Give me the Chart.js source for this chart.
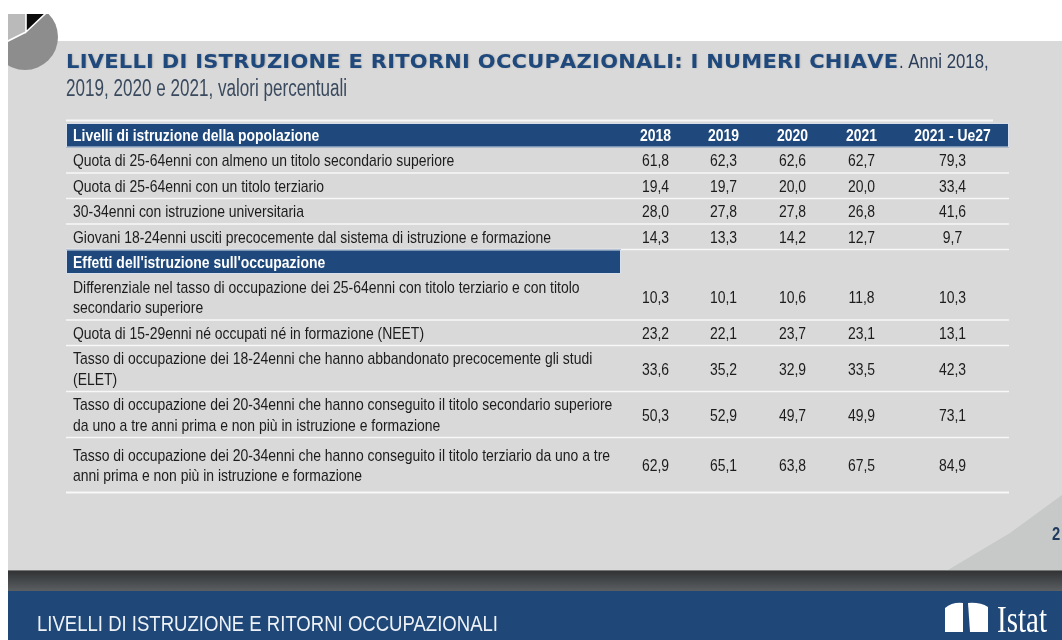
<!DOCTYPE html>
<html>
<head>
<meta charset="utf-8">
<script src="https://cdn.jsdelivr.net/npm/chart.js@4/dist/chart.umd.min.js"></script>
<style>
  html, body { margin: 0; padding: 0; background: #ffffff; }
  #wrap { width: 1062px; height: 640px; position: relative; overflow: hidden; }
  canvas { display: block; }
</style>
</head>
<body>
<div id="wrap"><canvas id="c" width="1062" height="640"></canvas></div>
<script>
// ---------------- DATA ----------------
const titleBold = 'LIVELLI DI ISTRUZIONE E RITORNI OCCUPAZIONALI: I NUMERI CHIAVE';
const titleRest = '. Anni 2018,';
const subtitle = '2019, 2020 e 2021, valori percentuali';
const footerText = 'LIVELLI DI ISTRUZIONE E RITORNI OCCUPAZIONALI';
const logoText = 'Istat';
const pageNumber = '2';

const columns = ['2018', '2019', '2020', '2021', '2021 - Ue27'];

const sections = [
  'Livelli di istruzione della popolazione',
  "Effetti dell'istruzione sull'occupazione"
];

const indicators = [
  'Quota di 25-64enni con almeno un titolo secondario superiore',
  'Quota di 25-64enni con un titolo terziario',
  '30-34enni con istruzione universitaria',
  'Giovani 18-24enni usciti precocemente dal sistema di istruzione e formazione',
  'Differenziale nel tasso di occupazione dei 25-64enni con titolo terziario e con titolo\nsecondario superiore',
  'Quota di 15-29enni né occupati né in formazione (NEET)',
  'Tasso di occupazione dei 18-24enni che hanno abbandonato precocemente gli studi\n(ELET)',
  'Tasso di occupazione dei 20-34enni che hanno conseguito il titolo secondario superiore\nda uno a tre anni prima e non più in istruzione e formazione',
  'Tasso di occupazione dei 20-34enni che hanno conseguito il titolo terziario da uno a tre\nanni prima e non più in istruzione e formazione'
];

const indicatorSection = [0, 0, 0, 0, 1, 1, 1, 1, 1];

const values2018 = [61.8, 19.4, 28.0, 14.3, 10.3, 23.2, 33.6, 50.3, 62.9];
const values2019 = [62.3, 19.7, 27.8, 13.3, 10.1, 22.1, 35.2, 52.9, 65.1];
const values2020 = [62.6, 20.0, 27.8, 14.2, 10.6, 23.7, 32.9, 49.7, 63.8];
const values2021 = [62.7, 20.0, 26.8, 12.7, 11.8, 23.1, 33.5, 49.9, 67.5];
const valuesUe27 = [79.3, 33.4, 41.6, 9.7, 10.3, 13.1, 42.3, 73.1, 84.9];

const columnValues = [values2018, values2019, values2020, values2021, valuesUe27];

// rows of the table: each section title followed by its indicators
const rowKeys = [];
sections.forEach((s, si) => {
  rowKeys.push(s);
  indicators.forEach((ind, i) => { if (indicatorSection[i] === si) rowKeys.push(ind); });
});
const sectionSet = new Set(sections);

// ---------------- LAYOUT / STYLE ----------------
const FONT = '"Liberation Sans", Arial, sans-serif';
const TITLE_FONT = '"DejaVu Sans", "Liberation Sans", Arial, sans-serif';
const SERIF = '"Liberation Serif", "Times New Roman", serif';
const NARROW = 0.82;
const BLUE = '#1f497c';
const TABLE = { left: 66, textX: 73, size: 17, lineGap: 20.5, textColor: '#1c1c1c' };
const COLUMN_WIDTHS = [67, 69, 69, 69, 113];
const ROW_SIZE = { section: 24.5, single: 25.5, double: 46, lastExtra: 9 };

const BAND_WEIGHTS = {
  x: (label, i) => COLUMN_WIDTHS[i] || 1,
  y: (label, i, labels) => {
    let w = sectionSet.has(label) ? ROW_SIZE.section : (label.includes('\n') ? ROW_SIZE.double : ROW_SIZE.single);
    if (i === labels.length - 1) w += ROW_SIZE.lastExtra;
    return w;
  }
};

// A category scale whose bands have individual widths (table columns / rows)
const BaseCategory = Chart.CategoryScale || Chart.registry.getScale('category');
class BandScale extends BaseCategory {
  bandWeights() {
    const labels = this.getLabels();
    const fn = BAND_WEIGHTS[this.axis];
    return labels.map((l, i) => fn(l, i, labels));
  }
  bandEdges(index) {
    const w = this.bandWeights();
    const total = w.reduce((a, b) => a + b, 0);
    let start = 0;
    for (let k = 0; k < index; k++) start += w[k];
    return [this.getPixelForDecimal(start / total), this.getPixelForDecimal((start + w[index]) / total)];
  }
  getPixelForValue(value) {
    const idx = typeof value === 'number' ? value : this.parse(value);
    if (idx === null || idx === undefined || isNaN(idx)) return NaN;
    const [a, b] = this.bandEdges(idx);
    return (a + b) / 2;
  }
}
BandScale.id = 'band';
BandScale.defaults = BaseCategory.defaults;
Chart.register(BandScale);

// ---------------- TEXT HELPERS ----------------
function drawText(ctx, str, x, baseline, o) {
  ctx.save();
  ctx.font = (o.weight || 'normal') + ' ' + o.size + 'px ' + (o.family || FONT);
  ctx.fillStyle = o.color;
  ctx.textAlign = o.align || 'left';
  ctx.textBaseline = 'alphabetic';
  let sx = o.sx || 1;
  if (o.fitWidth) sx = o.fitWidth / ctx.measureText(str).width;
  ctx.translate(x, baseline);
  ctx.scale(sx, 1);
  ctx.fillText(str, 0, 0);
  const w = ctx.measureText(str).width * sx;
  ctx.restore();
  return w;
}
function drawCentered(ctx, str, x, mid, o) {
  return drawText(ctx, str, x, mid + o.size * 0.716 / 2, o);
}
function drawSpaced(ctx, str, x, baseline, o) {
  ctx.save();
  ctx.font = (o.weight || 'normal') + ' ' + o.size + 'px ' + (o.family || FONT);
  ctx.fillStyle = o.color;
  ctx.textBaseline = 'alphabetic';
  if (o.shadow) { ctx.shadowColor = o.shadow; ctx.shadowBlur = 1.5; ctx.shadowOffsetX = 0.8; ctx.shadowOffsetY = 0.8; }
  const gsx = o.glyphScale || 1;
  const chars = [...str];
  const widths = chars.map(c => ctx.measureText(c).width * gsx);
  const natural = widths.reduce((a, b) => a + b, 0);
  const gap = (o.fitWidth - natural) / (chars.length - 1);
  let cx = x;
  chars.forEach((c, k) => {
    ctx.save();
    ctx.translate(cx, baseline);
    ctx.scale(gsx, 1);
    ctx.fillText(c, 0, 0);
    ctx.restore();
    cx += widths[k] + gap;
  });
  ctx.restore();
  return cx - gap;
}
const fmt = v => v.toFixed(1).replace('.', ',');

// ---------------- SLIDE DECORATION ----------------
const slidePlugin = {
  id: 'slide',
  beforeDraw(chart) {
    const ctx = chart.ctx;
    const W = chart.width, H = chart.height;
    ctx.save();
    ctx.fillStyle = '#ffffff';
    ctx.fillRect(0, 0, W, H);
    // grey panel
    ctx.fillStyle = '#d9d9d9';
    ctx.fillRect(8, 41, W - 8, 529);
    // lighter corner
    ctx.fillStyle = '#c7c8c8';
    ctx.beginPath();
    ctx.moveTo(W, 495);
    ctx.lineTo(1010, 533);
    ctx.lineTo(948, 570);
    ctx.lineTo(W, 570);
    ctx.closePath();
    ctx.fill();
    // dark band
    const g = ctx.createLinearGradient(0, 570, 0, 591);
    g.addColorStop(0, '#2f3133');
    g.addColorStop(1, '#5b5f62');
    ctx.fillStyle = g;
    ctx.fillRect(8, 570, W - 8, 21);
    ctx.fillStyle = '#767676';
    ctx.fillRect(8, 570, W - 8, 1);
    // blue footer
    ctx.fillStyle = '#1f4878';
    ctx.fillRect(8, 591, W - 8, 49);

    // pie decoration (top-left)
    ctx.save();
    ctx.beginPath();
    ctx.rect(8, 14, 70, 70);
    ctx.clip();
    ctx.beginPath();
    ctx.arc(25, 37, 33, 0, Math.PI * 2);
    ctx.fillStyle = '#8d8d8d';
    ctx.fill();
    ctx.clip();
    const cx = 26, cy = 32;
    ctx.fillStyle = '#bababa';
    ctx.beginPath();
    ctx.moveTo(cx, cy); ctx.lineTo(cx, -10); ctx.lineTo(-10, -10); ctx.lineTo(-10, 50); ctx.closePath();
    ctx.fill();
    ctx.fillStyle = '#0c0c0c';
    ctx.beginPath();
    ctx.moveTo(cx, cy); ctx.lineTo(cx, -10); ctx.lineTo(64, -4); ctx.closePath();
    ctx.fill();
    ctx.strokeStyle = '#ffffff';
    ctx.lineWidth = 1.6;
    ctx.beginPath();
    ctx.moveTo(cx, -10); ctx.lineTo(cx, cy); ctx.lineTo(64, -4);
    ctx.moveTo(cx, cy); ctx.lineTo(-10, 50);
    ctx.stroke();
    ctx.restore();

    // title
    const endBold = drawSpaced(ctx, titleBold, 66, 67.5, { weight: 'bold', size: 19, family: TITLE_FONT, color: BLUE, fitWidth: 832, glyphScale: 1.1, shadow: 'rgba(0,0,0,0.22)' });
    drawText(ctx, titleRest, endBold + 1, 67.5, { size: 20, color: '#2b3d58', sx: 0.84 });
    drawText(ctx, subtitle, 66, 95.5, { size: 23, color: '#3a4a5e', fitWidth: 281 });

    // footer
    drawText(ctx, footerText, 37, 631, { size: 22, color: '#eef2f7', fitWidth: 461 });
    // logo
    ctx.fillStyle = '#ffffff';
    ctx.beginPath();
    ctx.moveTo(945, 608); ctx.quadraticCurveTo(952, 602, 963, 603); ctx.lineTo(963, 632); ctx.lineTo(945, 632); ctx.closePath();
    ctx.fill();
    ctx.beginPath();
    ctx.moveTo(968, 603); ctx.quadraticCurveTo(980, 602, 988, 607); ctx.lineTo(988, 632); ctx.lineTo(970, 632); ctx.closePath();
    ctx.fill();
    drawText(ctx, logoText, 997, 632, { size: 38, family: SERIF, color: '#ffffff', fitWidth: 50 });
    // page number
    drawText(ctx, pageNumber, 1052, 540, { size: 18, weight: 'bold', color: '#1f3a5c', sx: 0.82 });
    ctx.restore();
  }
};

// ---------------- TABLE ----------------
const tablePlugin = {
  id: 'tableCells',
  beforeDatasetsDraw(chart) {
    const { ctx, chartArea, scales } = chart;
    const xs = scales.x, ys = scales.y;
    const left = TABLE.left, right = chartArea.right;
    ctx.save();
    // white rule above the table
    ctx.fillStyle = '#f7f7f7';
    ctx.fillRect(left, chartArea.top - 3.5, right - 16 - left, 2);

    rowKeys.forEach((key, i) => {
      const [top, bottom] = ys.bandEdges(i);
      const mid = (top + bottom) / 2;
      if (sectionSet.has(key)) {
        const bandRight = i === 0 ? right : xs.left - 1;
        ctx.fillStyle = BLUE;
        ctx.fillRect(left, top, bandRight - left, bottom - top);
        ctx.strokeStyle = 'rgba(235,240,246,0.9)';
        ctx.lineWidth = 1;
        ctx.strokeRect(left + 0.5, top + 0.5, bandRight - left - 1, bottom - top - 1);
        drawCentered(ctx, key, TABLE.textX, mid, { size: TABLE.size, weight: 'bold', color: '#ffffff', sx: NARROW });
        if (i === 0) {
          columns.forEach(col => {
            drawCentered(ctx, col, xs.getPixelForValue(col), mid, { size: TABLE.size, weight: 'bold', color: '#ffffff', sx: NARROW, align: 'center' });
          });
        }
      } else {
        const lines = key.split('\n');
        lines.forEach((ln, k) => {
          drawCentered(ctx, ln, TABLE.textX, mid + (k - (lines.length - 1) / 2) * TABLE.lineGap,
            { size: TABLE.size, color: TABLE.textColor, sx: NARROW });
        });
        const last = i === rowKeys.length - 1;
        ctx.fillStyle = '#f8f8f8';
        ctx.fillRect(left, bottom - (last ? 1 : 0.75), right - left, last ? 2 : 1.5);
      }
    });
    ctx.restore();
  },
  afterDatasetsDraw(chart) {
    const ctx = chart.ctx;
    chart.data.datasets.forEach((ds, j) => {
      const meta = chart.getDatasetMeta(j);
      meta.data.forEach((pt, i) => {
        drawCentered(ctx, fmt(ds.data[i].v), pt.x, pt.y, { size: TABLE.size, color: TABLE.textColor, sx: NARROW, align: 'center' });
      });
    });
  }
};

new Chart(document.getElementById('c'), {
  type: 'scatter',
  data: {
    datasets: columns.map((col, j) => ({
      label: col,
      data: indicators.map((ind, i) => ({ x: col, y: ind, v: columnValues[j][i] })),
      pointRadius: 0,
      pointHoverRadius: 0,
      showLine: false
    }))
  },
  options: {
    responsive: false,
    animation: false,
    devicePixelRatio: 1,
    events: [],
    layout: { padding: { left: 622, right: 53, top: 123, bottom: 147.5 } },
    plugins: { legend: { display: false }, tooltip: { enabled: false }, title: { display: false } },
    scales: {
      x: { type: 'band', labels: columns, display: false, offset: false },
      y: { type: 'band', labels: rowKeys, display: false, offset: false }
    }
  },
  plugins: [slidePlugin, tablePlugin]
});
</script>
</body>
</html>
